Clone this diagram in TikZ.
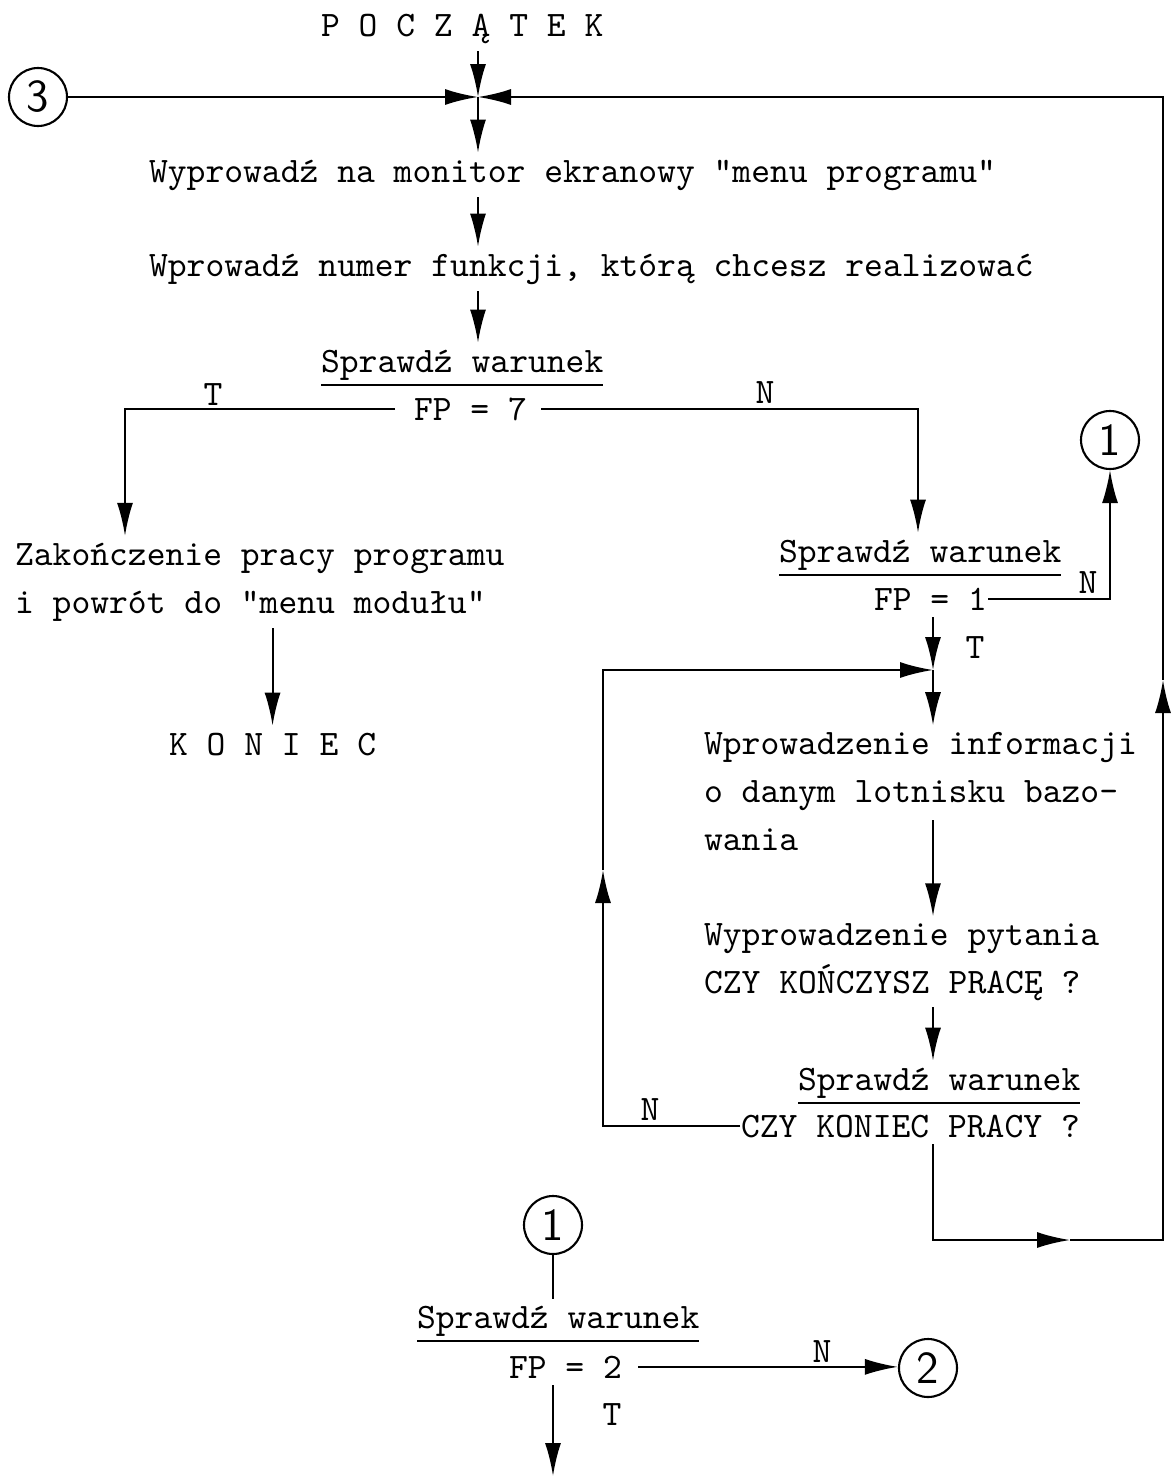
\documentclass[tikz,border=0pt]{standalone}
\usetikzlibrary{arrows.meta}

\tikzset{
  txt/.style={font=\ttfamily\fontsize{10.2}{13.6}\selectfont, inner xsep=0pt, inner ysep=0.6mm, align=left, anchor=base west},
  lbl/.style={font=\ttfamily\fontsize{10.2}{13.6}\selectfont, inner sep=0pt},
  conn/.style={draw, circle, minimum size=5.8mm, inner sep=0pt, font=\sffamily\fontsize{13}{13}\selectfont},
  arr/.style={-{Latex[length=3.3mm,width=1.6mm]}},
}

\begin{document}
\begin{tikzpicture}[x=1cm,y=-1cm,line width=0.6pt]
     \useasboundingbox (0,0) rectangle (11.72,14.78);
     % teksty
     \node[txt] (start)  at ( 3.20, 0.37) {P O C Z Ą T E K};
     \node[txt] (wyp)    at ( 1.48, 1.82) {Wyprowadź na monitor ekranowy "menu programu"};
     \node[txt] (wpr)    at ( 1.48, 2.76) {Wprowadź numer funkcji, którą chcesz realizować};
     \node[txt] (spr1)   at ( 3.20, 3.72) {\underline{Sprawdź warunek}};
     \node[txt] (fp7)    at ( 4.13, 4.20) {FP = 7};
     \node[txt] (zak)    at ( 0.14, 6.13) {Zakończenie pracy programu\\i powrót do "menu modułu"};
     \node[txt] (koniec) at ( 1.68, 7.55) {K O N I E C};
     \node[txt] (spr2)   at ( 7.78, 5.62) {\underline{Sprawdź warunek}};
     \node[txt] (fp1)    at ( 8.73, 6.10) {FP = 1};
     \node[txt] (wpi)    at ( 7.03, 8.50) {Wprowadzenie informacji\\o danym lotnisku bazo-\\wania};
     \node[txt] (wpy)    at ( 7.03, 9.93) {Wyprowadzenie pytania\\CZY KOŃCZYSZ PRACĘ ?};
     \node[txt] (spr3)   at ( 7.97,10.90) {\underline{Sprawdź warunek}};
     \node[txt] (ckp)    at ( 7.40,11.37) {CZY KONIEC PRACY ?};
     \node[txt] (spr4)   at ( 4.16,13.28) {\underline{Sprawdź warunek}};
     \node[txt] (fp2)    at ( 5.08,13.78) {FP = 2};
     % lacznik
     \node[conn] (c3)  at ( 0.38, 0.97) {3};
     \node[conn] (c1a) at (11.10, 4.40) {1};
     \node[conn] (c1b) at ( 5.53,12.25) {1};
     \node[conn] (c2)  at ( 9.28,13.68) {2};
     % T / N
     \node[lbl] (t7)  at ( 2.13, 3.95) {T};
     \node[lbl] (n7)  at ( 7.65, 3.93) {N};
     \node[lbl] (n1)  at (10.88, 5.83) {N};
     \node[lbl] (t1)  at ( 9.75, 6.48) {T};
     \node[lbl] (nk)  at ( 6.50,11.10) {N};
     \node[lbl] (n2)  at ( 8.22,13.52) {N};
     \node[lbl] (t2)  at ( 6.12,14.15) {T};
     % punkty
     \coordinate (jn)  at ( 4.78, 0.97);
     \coordinate (tl)  at ( 1.25, 4.10);
     \coordinate (tr)  at ( 9.18, 4.10);
     \coordinate (jn2) at ( 9.33, 6.70);
     \coordinate (w1)  at ( 9.33, 8.20);
     \coordinate (lm)  at ( 6.03, 8.70);
     \coordinate (bm)  at (10.70,12.40);
     \coordinate (rm)  at (11.63, 6.80);
     \coordinate (end) at ( 5.53,14.76);
     % polaczenia
     \draw[arr] (start.south -| jn) -- (jn);
     \draw[arr] (c3) -- (jn);
     \draw[arr] (jn) -- (wyp.north -| jn);
     \draw[arr] (wyp.south -| jn) -- (wpr.north -| jn);
     \draw[arr] (wpr.south -| jn) -- (spr1.north -| jn);
     \draw[arr] ([xshift=-1.8mm]fp7.west) -| (tl |- zak.north);
     \draw[arr] ([xshift=1.3mm]fp7.east) -| (tr |- spr2.north);
     \draw[arr] (zak.south -| koniec.north) -- (koniec.north);
     \draw[arr] (fp1.east) -| (c1a);
     \draw[arr] (fp1.south -| jn2) -- (jn2);
     \draw[arr] (jn2) -- (wpi.north -| jn2);
     \draw[arr] (w1) -- (wpy.north -| jn2);
     \draw[arr] (wpy.south -| jn2) -- (spr3.north -| jn2);
     \draw[arr] (ckp.west) -| (lm);
     \draw[arr] (lm) |- (jn2);
     \draw[arr] (ckp.south -| jn2) |- (bm);
     \draw[arr] (bm) -| (rm);
     \draw[arr] (rm) |- (jn);
     \draw (c1b) -- (spr4.north -| c1b);
     \draw[arr] ([xshift=1.5mm]fp2.east) -- (fp2.east -| c2.west);
     \draw[arr] (fp2.south -| c1b) -- (end);
\end{tikzpicture}
\end{document}
